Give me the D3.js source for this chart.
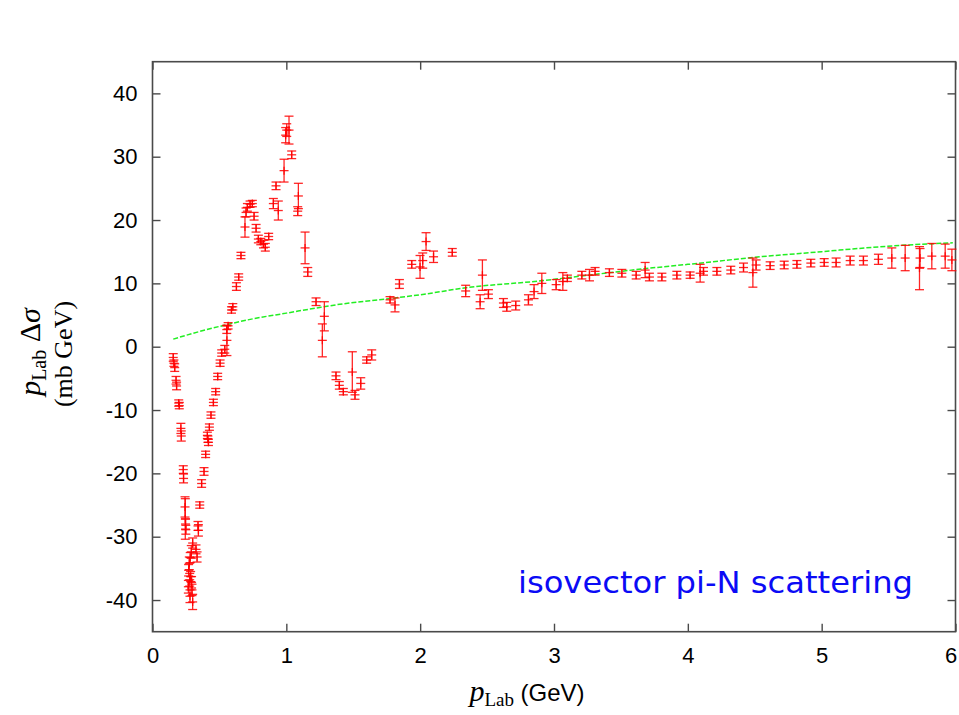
<!DOCTYPE html>
<html>
<head>
<meta charset="utf-8">
<script src="https://cdn.jsdelivr.net/npm/d3@7"></script>
<style>
  html, body { margin: 0; padding: 0; background: #fff; }
  svg { display: block; }
</style>
</head>
<body>
<svg id="chart" width="959" height="715"></svg>
<script>
// ---------------- DATA ----------------
// momentum p_Lab (GeV)
const pLab = [
  0.155, 0.160, 0.166, 0.176, 0.180, 0.196, 0.200, 0.212, 0.215, 0.230, 0.232,
  0.243, 0.245, 0.247, 0.249,
  0.300, 0.290, 0.282, 0.275, 0.270, 0.285, 0.278, 0.292, 0.268, 0.295, 0.280, 0.300, 0.325, 0.333,
  0.340, 0.343, 0.353, 0.367, 0.385, 0.397, 0.410, 0.414, 0.418, 0.425, 0.437, 0.455, 0.472, 0.487,
  0.505, 0.517, 0.540, 0.556, 0.555, 0.565, 0.590, 0.600, 0.627, 0.644, 0.661, 0.691, 0.699, 0.709,
  0.729, 0.746, 0.759, 0.774, 0.791, 0.809, 0.829, 0.843, 0.868, 0.903, 0.923, 0.940, 0.983, 0.995,
  1.003, 1.020, 1.040, 1.090, 1.085, 1.140, 1.160, 1.222, 1.284, 1.269, 1.371, 1.396, 1.426, 1.493,
  1.513, 1.556, 1.600, 1.638, 1.775, 1.812, 1.845, 1.937, 1.999, 2.019, 2.044, 2.100, 2.240, 2.340,
  2.448, 2.465, 2.510, 2.622, 2.647, 2.714, 2.809, 2.851, 2.909, 3.016, 3.066, 3.100, 3.208, 3.265,
  3.307, 3.414, 3.507, 3.614, 3.681, 3.713, 3.806, 3.918, 4.017, 4.092, 4.117, 4.217, 4.321, 4.416,
  4.486, 4.510, 4.615, 4.720, 4.815, 4.919, 5.019, 5.108, 5.213, 5.312, 5.424, 5.524, 5.624, 5.731,
  5.735, 5.823, 5.923, 5.973
];
// p_Lab * Delta sigma (mb GeV)
const dSigma = [
  -1.7, -2.6, -3.3, -5.3, -6.2, -8.9, -9.3, -12.9, -14.1, -19.4, -20.8,
  -25.3, -27.2, -28.0, -28.9,
  -31.0, -32.4, -33.3, -34.2, -35.3, -36.3, -36.8, -37.2, -37.9, -38.4, -39.4, -40.3, -32.0, -33.2,
  -28.3, -29.0, -25.0, -21.6, -19.7, -17.0, -14.0, -14.6, -15.1, -12.7, -10.8, -8.8, -7.1, -4.7,
  -2.6, -1.0, -0.4, 1.0, 2.7, 3.3, 5.8, 6.3, 9.5, 11.0, 14.4, 18.9, 21.2, 22.0,
  22.5, 22.6, 20.6, 18.7, 17.0, 16.6, 16.2, 15.7, 17.4, 22.6, 25.4, 21.5, 27.8, 33.4,
  34.2, 34.2, 30.3, 23.8, 21.4, 15.6, 11.8, 7.1, 4.8, 1.0, -4.6, -6.1, -7.1, -4.0,
  -7.6, -5.8, -2.1, -1.3, 7.4, 6.6, 9.9, 13.0, 12.6, 13.6, 16.6, 14.2, 14.9, 8.8,
  7.1, 11.3, 8.3, 6.9, 6.3, 6.5, 7.4, 8.7, 10.0, 9.8, 10.3, 10.8, 11.3, 11.3,
  11.9, 11.7, 11.6, 11.3, 12.1, 11.0, 11.0, 11.3, 11.3, 11.6, 11.9, 11.9, 12.1, 12.5,
  11.7, 12.9, 12.8, 12.9, 13.0, 13.2, 13.3, 13.3, 13.6, 13.6, 13.8, 14.0, 14.0, 12.4,
  14.0, 14.3, 14.3, 13.7
];
// error (mb GeV)
const dErr = [
  0.6, 0.5, 0.6, 0.6, 0.6, 0.5, 0.5, 0.8, 0.8, 0.6, 0.7,
  1.6, 3.2, 0.8, 0.7,
  0.8, 1.0, 0.8, 1.0, 0.9, 0.8, 1.0, 0.9, 1.0, 0.9, 1.0, 1.2, 0.7, 0.8,
  0.7, 0.9, 0.5, 0.6, 0.6, 0.5, 0.5, 0.5, 0.5, 0.5, 0.5, 0.5, 0.5, 0.5,
  0.5, 0.5, 0.6, 2.4, 0.6, 0.5, 0.5, 0.5, 0.6, 0.5, 0.5, 1.6, 0.7, 0.6,
  0.5, 0.5, 0.6, 0.6, 0.6, 0.5, 0.6, 0.6, 0.5, 0.8, 0.6, 1.5, 1.8, 1.2,
  1.0, 2.2, 0.6, 2.0, 0.7, 2.5, 0.7, 0.6, 2.3, 2.6, 0.6, 0.6, 0.5, 3.2,
  0.7, 0.9, 0.5, 0.8, 0.5, 1.1, 0.7, 0.6, 1.8, 1.2, 1.4, 0.9, 0.6, 0.9,
  1.1, 2.4, 0.7, 0.7, 0.7, 0.7, 0.8, 1.1, 1.6, 0.8, 1.4, 0.5, 0.6, 0.9,
  0.6, 0.6, 0.6, 0.6, 1.2, 0.6, 0.6, 0.6, 0.5, 1.4, 0.6, 0.6, 0.6, 0.7,
  2.3, 0.8, 0.6, 0.6, 0.6, 0.6, 0.6, 0.7, 0.7, 0.7, 0.8, 1.6, 2.0, 3.4,
  1.5, 2.0, 1.9, 1.7
];
// smooth curve (green dashed)
const curveP = [0.155, 0.30, 0.50, 0.75, 1.00, 1.25, 1.40, 1.775, 2.00, 2.34, 2.90, 3.30, 3.67, 4.00, 4.54, 5.00, 5.27, 5.60, 5.98];
const curveV = [1.2, 2.1, 3.2, 4.4, 5.3, 6.2, 6.7, 7.6, 8.2, 9.3, 10.4, 11.4, 12.3, 13.0, 14.2, 15.0, 15.5, 16.0, 16.4];

const xTicks = [0, 1, 2, 3, 4, 5, 6];
const yTicks = [-40, -30, -20, -10, 0, 10, 20, 30, 40];

// ---------------- CHART ----------------
const svg = d3.select("#chart");
const L = 152.5, R = 955.5, T = 61.7, B = 631.7;
const x = d3.scaleLinear().domain([0, 6]).range([L, R]);
const y = d3.scaleLinear().domain([-45, 45]).range([B, T]);

const frameColor = "#4a4a4a";
const plainFmt = d => String(d);   // hyphen-minus, as in the reference

// axes
const axL = svg.append("g").attr("transform", `translate(${L},0)`)
  .call(d3.axisLeft(y).tickValues(yTicks).tickSizeInner(-8).tickSizeOuter(0).tickPadding(15).tickFormat(plainFmt));
const axR = svg.append("g").attr("transform", `translate(${R},0)`)
  .call(d3.axisRight(y).tickValues(yTicks).tickSizeInner(-8).tickSizeOuter(0).tickFormat(""));
const axB = svg.append("g").attr("transform", `translate(0,${B})`)
  .call(d3.axisBottom(x).tickValues(xTicks).tickSizeInner(-8).tickSizeOuter(0).tickPadding(16).tickFormat(plainFmt));
const axT = svg.append("g").attr("transform", `translate(0,${T})`)
  .call(d3.axisTop(x).tickValues(xTicks).tickSizeInner(-8).tickSizeOuter(0).tickFormat(""));

[axL, axR, axB, axT].forEach(g => {
  g.select(".domain").remove();
  g.selectAll(".tick line").attr("stroke", frameColor).attr("stroke-width", 1.4);
  g.selectAll("text").attr("font-family", "'Liberation Sans', Arial, sans-serif")
    .attr("font-size", 22).attr("fill", "#000");
});
// keep the last bottom label inside the picture
axB.selectAll(".tick text").filter(d => d === 6).attr("dx", -5);

// frame
svg.append("rect").attr("x", L).attr("y", T).attr("width", R - L).attr("height", B - T)
  .attr("fill", "none").attr("stroke", frameColor).attr("stroke-width", 1.6);

// green curve
const curveData = curveP.map((p, i) => [p, curveV[i]]);
svg.append("path")
  .datum(curveData)
  .attr("d", d3.line().x(d => x(d[0])).y(d => y(d[1])).curve(d3.curveMonotoneX))
  .attr("fill", "none").attr("stroke", "#22ee22").attr("stroke-width", 1.5)
  .attr("stroke-dasharray", "5,2");

// data points with error bars
const pts = pLab.map((p, i) => ({ p, v: dSigma[i], e: dErr[i] }));
const cap = 4.5, hw = 4.5;
const gP = svg.append("g").attr("stroke", "#ff0000").attr("stroke-width", 1.3).attr("stroke-opacity", 0.85);
const pg = gP.selectAll("g.pt").data(pts).join("g").attr("class", "pt");
pg.append("line").attr("x1", d => x(d.p)).attr("x2", d => x(d.p))
  .attr("y1", d => y(d.v - d.e)).attr("y2", d => y(d.v + d.e));
pg.append("line").attr("x1", d => x(d.p) - cap).attr("x2", d => x(d.p) + cap)
  .attr("y1", d => y(d.v - d.e)).attr("y2", d => y(d.v - d.e));
pg.append("line").attr("x1", d => x(d.p) - cap).attr("x2", d => x(d.p) + cap)
  .attr("y1", d => y(d.v + d.e)).attr("y2", d => y(d.v + d.e));
pg.append("line").attr("x1", d => x(d.p) - hw).attr("x2", d => x(d.p) + hw)
  .attr("y1", d => y(d.v)).attr("y2", d => y(d.v));
pg.append("line").attr("x1", d => x(d.p)).attr("x2", d => x(d.p))
  .attr("y1", d => y(d.v) - 4).attr("y2", d => y(d.v) + 4);

// y-axis label
const serif = "'Liberation Serif', 'DejaVu Serif', serif";
const t1 = svg.append("text").attr("transform", "translate(40,352) rotate(-90)")
  .attr("text-anchor", "middle").attr("font-family", serif).attr("font-size", 30).attr("fill", "#000");
t1.append("tspan").attr("font-style", "italic").text("p");
t1.append("tspan").attr("font-size", 20).attr("dy", 6).text("Lab");
t1.append("tspan").attr("dy", -6).text(" Δ");
t1.append("tspan").attr("font-style", "italic").text("σ");
svg.append("text").attr("transform", "translate(72,354) rotate(-90)")
  .attr("text-anchor", "middle").attr("font-family", serif)
  .attr("font-size", 26).attr("fill", "#000").text("(mb GeV)");

// x-axis label
const xl = svg.append("text").attr("x", 527).attr("y", 701).attr("text-anchor", "middle").attr("fill", "#000");
xl.append("tspan").attr("font-family", serif).attr("font-style", "italic").attr("font-size", 30).text("p");
xl.append("tspan").attr("font-family", serif).attr("font-size", 19).attr("dy", 5).text("Lab");
xl.append("tspan").attr("font-family", "'Liberation Sans', Arial, sans-serif").attr("font-size", 24).attr("dy", -5).text(" (GeV)");

// annotation
svg.append("text").attr("x", 518).attr("y", 593)
  .attr("font-family", "'DejaVu Sans', Verdana, sans-serif").attr("font-size", 30)
  .attr("fill", "#0b0bf5").attr("textLength", 395).attr("lengthAdjust", "spacingAndGlyphs")
  .text("isovector pi-N scattering");
</script>
</body>
</html>
